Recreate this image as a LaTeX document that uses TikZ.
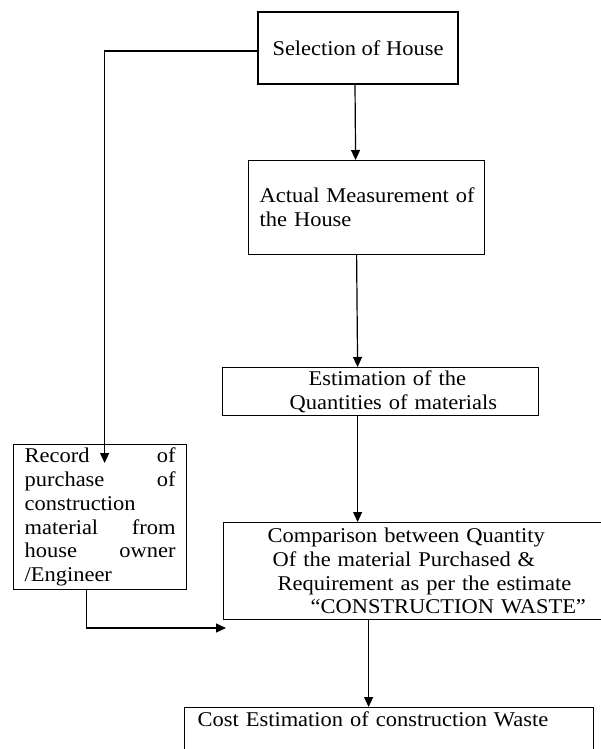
\documentclass[tikz,border=0pt]{standalone}
\usepackage{fontspec}
\setmainfont{Liberation Serif}[FakeStretch=1.07]
\usetikzlibrary{arrows.meta}
\newcommand\recline[2]{\leavevmode\hbox to 151pt{#1\hfill #2}}
\begin{document}
\begin{tikzpicture}[x=1pt,y=-1pt,
  box/.style={draw, line width=1.2pt, inner ysep=0pt, align=left,
    font=\fontsize{21}{23.8}\selectfont},
  arr/.style={line width=1.2pt, -{Triangle[length=10pt,width=9pt]}}]
\useasboundingbox (0,0) rectangle (600,749);

\node[box, minimum width=200pt, minimum height=72pt, align=center, inner xsep=0pt] (b1) at (358,48) {Selection of House};

\node[box, anchor=north west, inner xsep=11pt, text width=214pt, minimum height=94pt] (b2) at (248,160)
  {\mbox{Actual Measurement of}\\\mbox{the House}};

\node[box, anchor=north west, inner xsep=40pt, text width=236pt, minimum height=48pt] (b3) at (222,367)
  {\mbox{\hspace*{46pt}Estimation of the}\\\mbox{\hspace*{27pt}Quantities of materials}};

\node[box, anchor=north west, inner xsep=44pt, text width=329pt, minimum height=97pt] (b4) at (223,522)
  {\mbox{Comparison between Quantity}\\
   \mbox{\hspace*{5pt}Of the material Purchased \&}\\
   \mbox{\hspace*{10pt}Requirement as per the estimate}\\
   \mbox{\hspace*{43pt}“CONSTRUCTION WASTE”}};

\node[box, anchor=north west, inner xsep=11pt, text width=151pt, minimum height=145pt] (rec) at (13,444)
  {\recline{Record}{of}\\\recline{purchase}{of}\\\mbox{construction}\\\recline{material}{from}\\\recline{house}{owner}\\\mbox{/Engineer}};

\node[box, anchor=north west, inner xsep=13pt, inner ysep=4pt, text width=383pt, text height=15pt, text depth=70pt] (b5) at (184,707)
  {Cost Estimation of construction Waste};

\coordinate (e) at (226,628);

\draw[arr] ([xshift=-3pt]b1.south) -- ([xshift=-11pt]b2.north);
\draw[arr] ([xshift=-10pt]b2.south) -- ([xshift=-23pt]b3.north);
\draw[arr] ([xshift=-23pt]b3.south) -- ([xshift=-74.5pt]b4.north);
\draw[arr] ([xshift=-63.5pt]b4.south) -- ([xshift=-20.5pt]b5.north);
\draw[arr] ([yshift=-3pt]b1.west) -| ([xshift=4.5pt,yshift=-19pt]rec.north);
\draw[arr] ([xshift=-13.5pt]rec.south) |- (e);
\end{tikzpicture}
\end{document}
